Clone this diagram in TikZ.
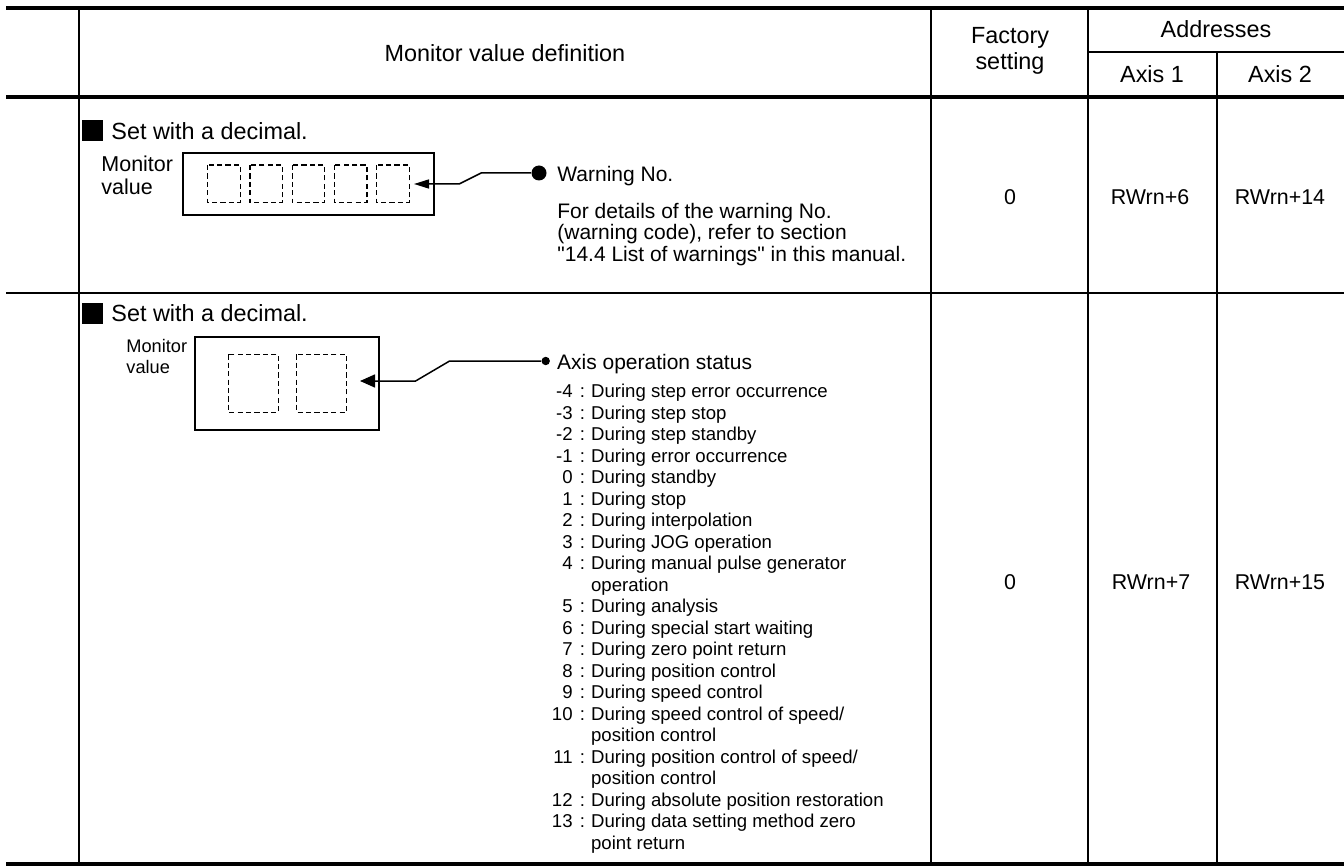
\documentclass[tikz,border=0pt]{standalone}
\usepackage{fontspec}
\setmainfont{Liberation Sans}
\usetikzlibrary{arrows.meta}
\tikzset{
  thickrule/.style={line width=2.2pt},
  thinrule/.style={line width=1.1pt},
  cell/.style={inner sep=0pt},
  hdr/.style={cell, font=\fontsize{11.7}{12.75}\selectfont, align=center},
  val/.style={cell, font=\fontsize{10.7}{12}\selectfont},
  body/.style={cell, font=\fontsize{10.5}{10.75}\selectfont, align=left},
  lab1/.style={cell, font=\fontsize{10.75}{11.65}\selectfont, align=left},
  lab2/.style={cell, font=\fontsize{9.1}{10.3}\selectfont, align=left},
  entry/.style={cell, font=\fontsize{9.3}{10.75}\selectfont},
  monbox/.style={line width=1.4pt},
  digit/.style={line width=0.6pt, dash pattern=on 2.6pt off 1.6pt},
  lead/.style={line width=0.75pt},
  blob/.style={circle, fill=black, inner sep=0pt},
}
\begin{document}
\begin{tikzpicture}[x=0.5pt, y=-0.5pt]
\useasboundingbox (0,0) rectangle (1344,866);
% table rules
\draw[thickrule] (6,8) -- (1344,8);
\draw[thickrule] (6,97) -- (1344,97);
\draw[thinrule] (6,293) -- (1344,293);
\draw[thickrule] (6,864) -- (1344,864);
\draw[thinrule] (79,8) -- (79,864) (931,8) -- (931,864) (1088,8) -- (1088,864);
\draw[thinrule] (1088,52) -- (1344,52) (1217,52) -- (1217,864);

% header
\node[hdr] (def) at (505,53) {Monitor value definition};
\node[hdr] (fac) at (1010,51) {Factory\\setting};
\node[hdr] (adr) at (1216,29) {Addresses};
\node[hdr] (ax1) at (1152,74) {Axis 1};
\node[hdr] (ax2) at (1280,74) {Axis 2};

% first row: warning number
\fill (82,120) rectangle (103,141);
\node[hdr, anchor=base west] (set1) at (111,140) {Set with a decimal.};
\node[lab1, anchor=base west] (mon1) at (101,195) {Monitor\\value};
\draw[monbox] (183,153) rectangle (434,215);
\foreach \i in {0,...,4}
  \draw[digit] ({207.7+42.25*\i},165) rectangle ++(32.5,37.7);
\coordinate (tip1) at (414,184);
\node[blob, minimum size=7.5pt] (dot1) at (539,173) {};
\draw[lead, -{Triangle[length=7.5pt,width=4.5pt]}] (dot1.west) -- ++(-50,0) -- ++(-22,11) -- (tip1);
\node[body, anchor=base west] (warn) at (557,181.7) {Warning No.};
\node[body, anchor=base west] (warnref) at (557,261.3) {For details of the warning No.\\(warning code), refer to section\\\textquotedbl 14.4 List of warnings\textquotedbl{} in this manual.};
\node[val] (fac1) at (1010,197) {0};
\node[val] (adr1a) at (1150,197) {RWrn+6};
\node[val] (adr1b) at (1280,197) {RWrn+14};

% second row: axis operation status
\fill (82,303) rectangle (103,324);
\node[hdr, anchor=base west] (set2) at (111,321.7) {Set with a decimal.};
\node[lab2, anchor=base west] (mon2) at (126,373.3) {Monitor\\value};
\draw[monbox] (195,337) rectangle (379,430);
\foreach \i in {0,1}
  \draw[digit] ({228.3+68.4*\i},354.3) rectangle ++(50,58);
\coordinate (tip2) at (360,381);
\node[blob, minimum size=4.2pt] (dot2) at (545.7,361) {};
\draw[lead, -{Triangle[length=7.5pt,width=6.5pt]}] (dot2.west) -- ++(-91.5,0) -- ++(-34,20) -- (tip2);
\node[body, anchor=base west] (status) at (556.7,369.3) {Axis operation status};
\foreach \n/\c/\t [count=\k from 0] in {
  -4/:/During step error occurrence, -3/:/During step stop,
  -2/:/During step standby, -1/:/During error occurrence,
  0/:/During standby, 1/:/During stop, 2/:/During interpolation,
  3/:/During JOG operation, 4/:/During manual pulse generator,
  //operation, 5/:/During analysis, 6/:/During special start waiting,
  7/:/During zero point return, 8/:/During position control,
  9/:/During speed control, 10/:/{During speed control of speed/},
  //position control, 11/:/{During position control of speed/},
  //position control, 12/:/During absolute position restoration,
  13/:/During data setting method zero, //point return}{
  \node[entry, anchor=base east] (no\k) at (573,{397.7+21.5*\k}) {\n};
  \node[entry, anchor=base west] (col\k) at (579.5,{397.7+21.5*\k}) {\c};
  \node[entry, anchor=base west] (st\k) at (590.7,{397.7+21.5*\k}) {\t};
}
\node[val] (fac2) at (1010,582) {0};
\node[val] (adr2a) at (1151,582) {RWrn+7};
\node[val] (adr2b) at (1280,582) {RWrn+15};
\end{tikzpicture}
\end{document}
